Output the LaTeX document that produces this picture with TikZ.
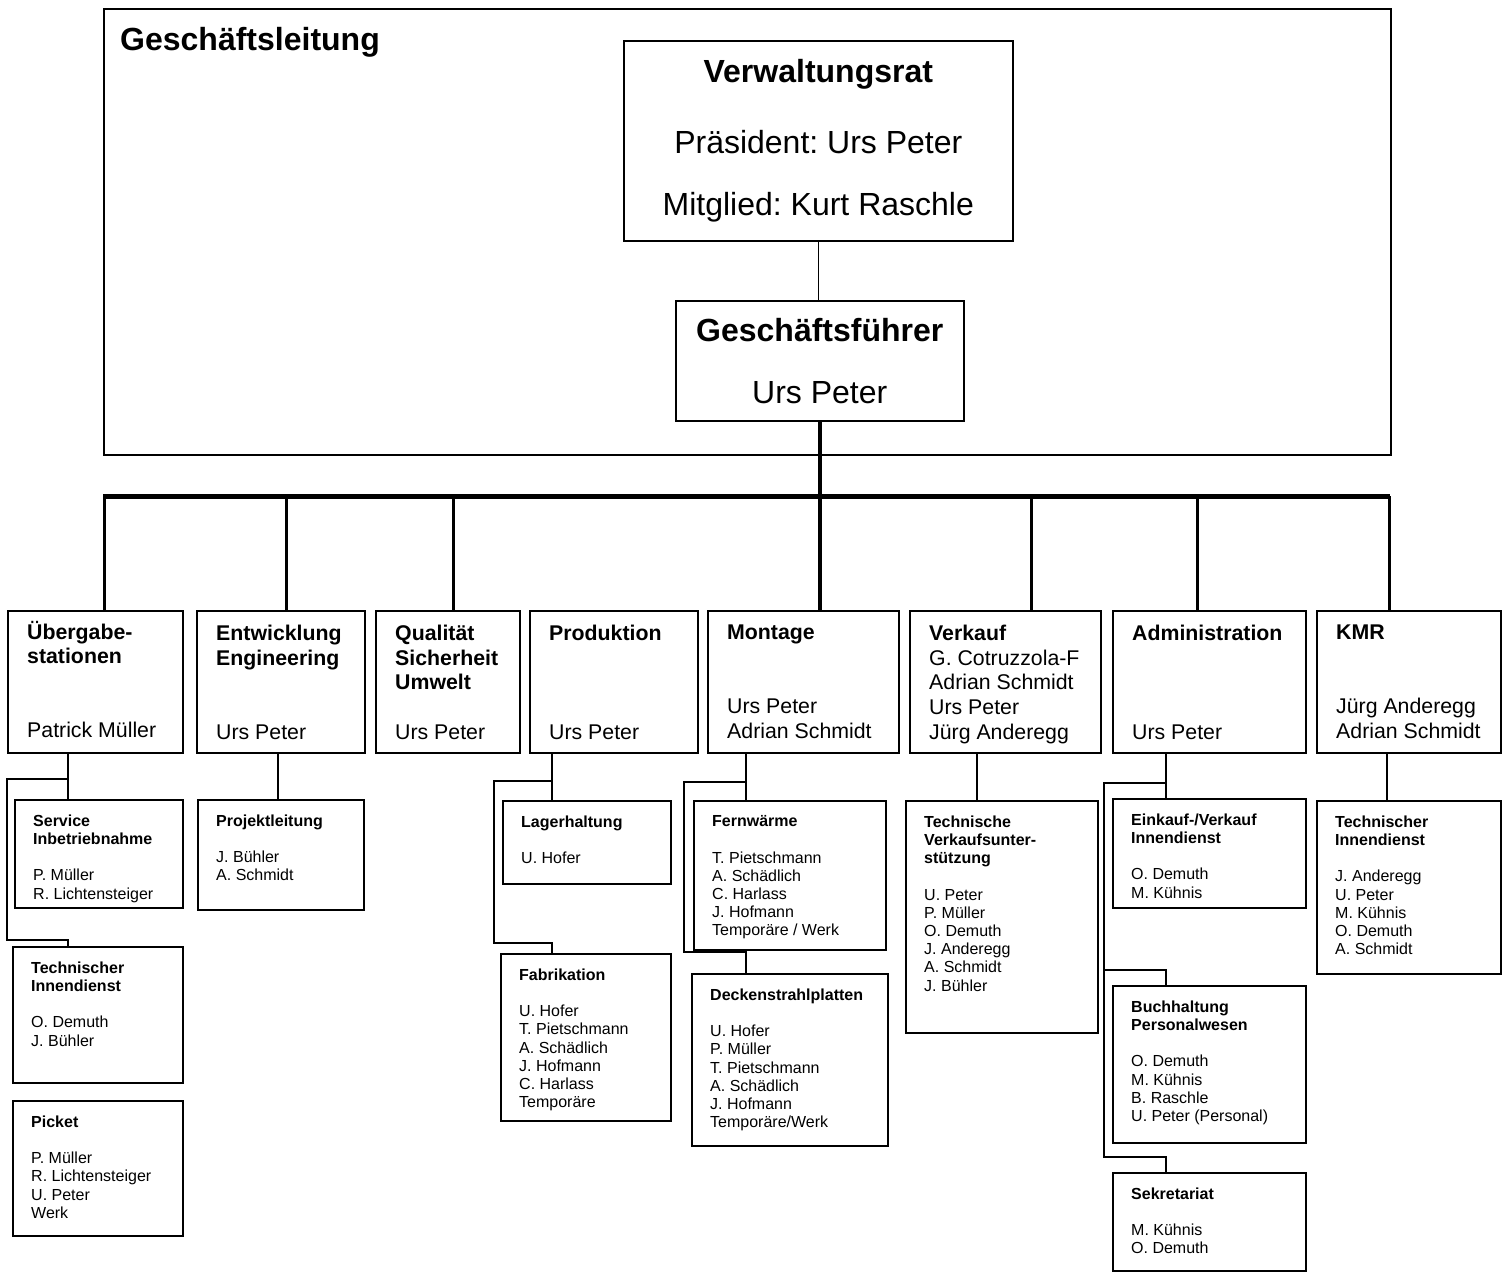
\documentclass[tikz,border=0pt]{standalone}
\usepackage{fontspec}
\setmainfont{Liberation Sans}
\frenchspacing

\tikzset{
  orgbox/.style={draw, line width=2pt, anchor=north west, inner sep=0pt},
  dtext/.style={anchor=north west, align=left, inner sep=0pt, xshift=20pt, yshift=-15pt,
    font=\fontsize{21.3}{24.6}\selectfont},
  stext/.style={anchor=north west, align=left, inner sep=0pt, xshift=19pt, yshift=-15.5pt,
    font=\fontsize{16}{18.2}\selectfont},
  conn/.style={line width=2pt},
  drop/.style={line width=3pt},
}

\begin{document}
\begin{tikzpicture}[x=1pt,y=-1pt]
\useasboundingbox (0,0) rectangle (1508,1272);

% Geschaeftsleitung frame
\node[orgbox, minimum width=1287, minimum height=446,
  label={[anchor=base west, inner sep=0pt, xshift=17pt, yshift=-42pt, font=\fontsize{32}{38}\selectfont]north west:\textbf{Geschäftsleitung}}]
  (gl) at (103,8) {};

\node[orgbox, line width=1.6pt, minimum width=389, minimum height=200, align=center,
  font=\fontsize{32}{38}\selectfont] (vr) at (623,40)
  {\textbf{Verwaltungsrat}\\[33pt] Präsident: Urs Peter\\[24pt] Mitglied: Kurt Raschle};
\node[orgbox, line width=1.6pt, minimum width=288, minimum height=120, align=center,
  font=\fontsize{32}{38}\selectfont] (gf) at (675,300)
  {\textbf{Geschäftsführer}\\[24pt] Urs Peter};
\draw[line width=1.6pt] (vr.south) -- (vr.south |- gf.north);

% Departments
\node[orgbox, minimum width=175, minimum height=142,
  label={[dtext, yshift=4pt]north west:{\textbf{Übergabe-}\\ \textbf{stationen}\\[49.2pt] Patrick Müller}}] (ueb) at (7,610) {};
\node[orgbox, minimum width=168, minimum height=142,
  label={[dtext]north west:{\textbf{Entwicklung}\\ \textbf{Engineering}\\[49.2pt] Urs Peter}}] (entw) at (196,610) {};
\node[orgbox, minimum width=144, minimum height=142,
  label={[dtext]north west:{\textbf{Qualität}\\ \textbf{Sicherheit}\\ \textbf{Umwelt}\\[24.6pt] Urs Peter}}] (qual) at (375,610) {};
\node[orgbox, minimum width=168, minimum height=142,
  label={[dtext]north west:{\textbf{Produktion}\\[73.8pt] Urs Peter}}] (prod) at (529,610) {};
\node[orgbox, minimum width=191, minimum height=142,
  label={[dtext]north west:{\textbf{Montage}\\[49.2pt] Urs Peter\\ Adrian Schmidt}}] (mont) at (707,610) {};
\node[orgbox, minimum width=191, minimum height=142,
  label={[dtext]north west:{\textbf{Verkauf}\\ G. Cotruzzola-F\\ Adrian Schmidt\\ Urs Peter\\ Jürg Anderegg}}] (verk) at (909,610) {};
\node[orgbox, minimum width=193, minimum height=142,
  label={[dtext]north west:{\textbf{Administration}\\[73.8pt] Urs Peter}}] (admin) at (1112,610) {};
\node[orgbox, minimum width=184, minimum height=142,
  label={[dtext]north west:{\textbf{KMR}\\[49.2pt] Jürg Anderegg\\ Adrian Schmidt}}] (kmr) at (1316,610) {};

% Bus and drops
\draw[line width=5pt] (103,496) -- (1390,496);
\draw[line width=4pt] (gf.south) -- (gf.south |- mont.north);
\foreach \xx/\dep in {104/ueb,286/entw,453/qual,1031/verk,1197/admin,1389/kmr}{
  \draw[drop] (\xx,496) -- (\xx,0 |- \dep.north);
}

% Sub units
\node[orgbox, minimum width=168, minimum height=108,
  label={[stext]north west:{\textbf{Service}\\ \textbf{Inbetriebnahme}\\[18.2pt] P. Müller\\ R. Lichtensteiger}}] (servbox) at (14,799) {};
\node[orgbox, minimum width=170, minimum height=136,
  label={[stext]north west:{\textbf{Technischer}\\ \textbf{Innendienst}\\[18.2pt] O. Demuth\\ J. Bühler}}] (techbox) at (12,946) {};
\node[orgbox, minimum width=170, minimum height=135,
  label={[stext]north west:{\textbf{Picket}\\[18.2pt] P. Müller\\ R. Lichtensteiger\\ U. Peter\\ Werk}}] (picket) at (12,1100) {};
\node[orgbox, minimum width=166, minimum height=110,
  label={[stext]north west:{\textbf{Projektleitung}\\[18.2pt] J. Bühler\\ A. Schmidt}}] (projbox) at (197,799) {};
\node[orgbox, minimum width=168, minimum height=83,
  label={[stext]north west:{\textbf{Lagerhaltung}\\[18.2pt] U. Hofer}}] (lagerbox) at (502,800) {};
\node[orgbox, minimum width=170, minimum height=167,
  label={[stext]north west:{\textbf{Fabrikation}\\[18.2pt] U. Hofer\\ T. Pietschmann\\ A. Schädlich\\ J. Hofmann\\ C. Harlass\\ Temporäre}}] (fabbox) at (500,953) {};
\node[orgbox, minimum width=192, minimum height=149,
  label={[stext]north west:{\textbf{Fernwärme}\\[18.2pt] T. Pietschmann\\ A. Schädlich\\ C. Harlass\\ J. Hofmann\\ Temporäre / Werk}}] (fernbox) at (693,800) {};
\node[orgbox, minimum width=196, minimum height=172,
  label={[stext]north west:{\textbf{Deckenstrahlplatten}\\[18.2pt] U. Hofer\\ P. Müller\\ T. Pietschmann\\ A. Schädlich\\ J. Hofmann\\ Temporäre/Werk}}] (deckbox) at (691,973) {};
\node[orgbox, minimum width=192, minimum height=232,
  label={[stext]north west:{\textbf{Technische}\\ \textbf{Verkaufsunter-}\\ \textbf{stützung}\\[18.2pt] U. Peter\\ P. Müller\\ O. Demuth\\ J. Anderegg\\ A. Schmidt\\ J. Bühler}}] (tvubox) at (905,800) {};
\node[orgbox, minimum width=193, minimum height=109,
  label={[stext]north west:{\textbf{Einkauf-/Verkauf}\\ \textbf{Innendienst}\\[18.2pt] O. Demuth\\ M. Kühnis}}] (einkbox) at (1112,798) {};
\node[orgbox, minimum width=193, minimum height=157,
  label={[stext]north west:{\textbf{Buchhaltung}\\ \textbf{Personalwesen}\\[18.2pt] O. Demuth\\ M. Kühnis\\ B. Raschle\\ U. Peter (Personal)}}] (buchbox) at (1112,985) {};
\node[orgbox, minimum width=193, minimum height=98,
  label={[stext]north west:{\textbf{Sekretariat}\\[18.2pt] M. Kühnis\\ O. Demuth}}] (sekbox) at (1112,1172) {};
\node[orgbox, minimum width=184, minimum height=173,
  label={[stext]north west:{\textbf{Technischer}\\ \textbf{Innendienst}\\[18.2pt] J. Anderegg\\ U. Peter\\ M. Kühnis\\ O. Demuth\\ A. Schmidt}}] (kmrtibox) at (1316,800) {};

% Connectors to sub units
\foreach \xx/\up/\kid in {68/ueb/servbox,278/entw/projbox,552/prod/lagerbox,746/mont/fernbox,
                          977/verk/tvubox,1166/admin/einkbox,1387/kmr/kmrtibox}{
  \draw[conn] (\xx,0 |- \up.south) -- (\xx,0 |- \kid.north);
}
\draw[conn] (68,779) -- (7,779) |- (68,940) -- (68,0 |- techbox.north);
\draw[conn] (552,781) -- (494,781) |- (552,943) -- (552,0 |- fabbox.north);
\draw[conn] (746,782) -- (684,782) |- (746,952) -- (746,0 |- deckbox.north);
\draw[conn] (1166,783) -- (1104,783) |- (1166,1157) -- (1166,0 |- sekbox.north);
\draw[conn] (1104,970) -- (1166,970) -- (1166,0 |- buchbox.north);

\end{tikzpicture}
\end{document}
